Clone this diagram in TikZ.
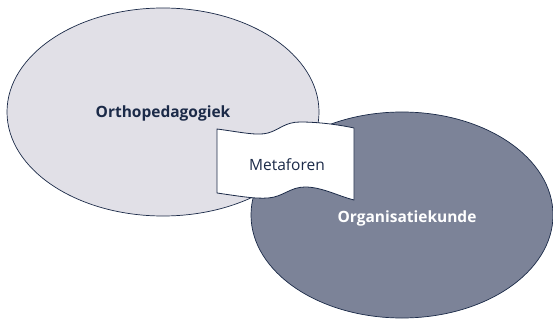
\documentclass[tikz,border=0pt]{standalone}
\usepackage{fontspec}
\setmainfont{Open Sans}
\usetikzlibrary{shapes.geometric}
\definecolor{navy}{HTML}{1B2A48}
\definecolor{lightfill}{HTML}{E1E0E7}
\definecolor{darkfill}{HTML}{7C8398}
\tikzset{
  field/.style={ellipse, draw=navy, line width=0.7pt, inner sep=0pt},
  flagshape/.style={draw=navy, fill=white, line width=0.8pt, line join=round},
  lbl/.style={font=\fontsize{15.5}{18}\selectfont, inner sep=0pt}
}
\begin{document}
\begin{tikzpicture}[x=1pt,y=-1pt]
\useasboundingbox (0,0) rectangle (553,320);
\node[field, fill=lightfill, minimum width=312pt, minimum height=208pt] (ortho) at (163,112) {};
\node[field, fill=darkfill, minimum width=302pt, minimum height=206pt] (org) at (402,215) {};
\node[lbl, text=navy, font=\fontsize{15.5}{18}\selectfont\bfseries] (orthot) at (163,113) {Orthopedagogiek};
\node[lbl, text=white, font=\fontsize{15.5}{18}\selectfont\bfseries] (orgt) at (407,218) {Organisatiekunde};
\draw[flagshape] (217,129) .. controls (240,132) and (257,136) .. (268,133)
  .. controls (279,130) and (285,122) .. (300,122)
  .. controls (320,122) and (340,125) .. (354,128)
  -- (354,200)
  .. controls (338,196) and (322,187) .. (305,187)
  .. controls (290,187) and (283,197) .. (268,198)
  .. controls (255,199) and (238,196) .. (217,193) -- cycle;
\node[lbl, text=navy] (meta) at (287,165) {Metaforen};
\end{tikzpicture}
\end{document}
